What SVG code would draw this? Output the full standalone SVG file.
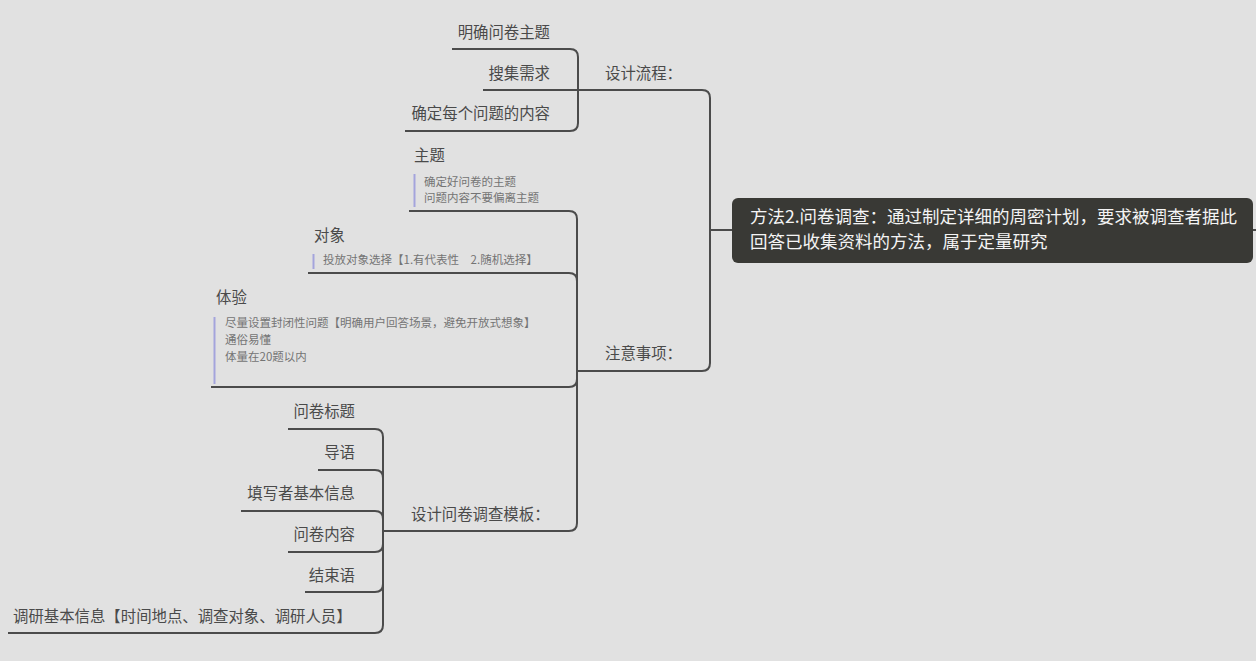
<svg xmlns="http://www.w3.org/2000/svg" width="1256" height="661" viewBox="0 0 1256 661">
<style>
text{font-family:"Noto Sans CJK SC","Liberation Sans",sans-serif;}
.t{font-size:15.4px;fill:#4a4a4a;}
.e{text-anchor:end;}
.n{font-size:11.5px;fill:#747474;}
.bar{stroke:#a4a4dc;stroke-width:2;fill:none;}
.c{stroke:#4b4b4b;stroke-width:2;fill:none;stroke-linecap:butt;}
.m{font-size:17.5px;fill:#f4f4f4;}
</style>
<rect x="0" y="0" width="1256" height="661" fill="#e1e1e1"/>
<g id="connectors">
<path class="c" d="M732,230 H710"/>
<path class="c" d="M1253,230 H1256"/>
<path class="c" d="M483,90 H702 Q710,90 710,98 V363 Q710,371 702,371 H577"/>
<path class="c" d="M452,49 H570 Q578,49 578,57 V123 Q578,131 570,131 H405"/>
<path class="c" d="M409,211 H569 Q577,211 577,219 V523 Q577,531 569,531 H383"/>
<path class="c" d="M308,273 H569 Q577,273 577,281"/>
<path class="c" d="M211,387 H569 Q577,387 577,379"/>
<path class="c" d="M288,429 H375 Q383,429 383,437 V625 Q383,633 375,633 H8"/>
<path class="c" d="M318,470 H375 Q383,470 383,478"/>
<path class="c" d="M241,511 H375 Q383,511 383,519"/>
<path class="c" d="M288,552 H375 Q383,552 383,544"/>
<path class="c" d="M305,592 H375 Q383,592 383,584"/>
</g>
<g id="main">
<rect x="732" y="198" width="521" height="65" rx="6" fill="#393935"/>
<text class="m" x="750" y="223">方法2.问卷调查：通过制定详细的周密计划，要求被调查者据此</text>
<text class="m" x="750" y="247.5">回答已收集资料的方法，属于定量研究</text>
</g>
<g id="design-flow"><text class="t" x="605" y="79">设计流程：</text></g>
<g id="flow-1"><text class="t e" x="550" y="38">明确问卷主题</text></g>
<g id="flow-2"><text class="t e" x="550" y="79">搜集需求</text></g>
<g id="flow-3"><text class="t e" x="550" y="119">确定每个问题的内容</text></g>
<g id="notes"><text class="t" x="605" y="359">注意事项：</text></g>
<g id="note-topic">
<text class="t" x="414" y="161">主题</text>
<line class="bar" x1="414.5" y1="174" x2="414.5" y2="207"/>
<text class="n" x="424" y="186">确定好问卷的主题</text>
<text class="n" x="424" y="202">问题内容不要偏离主题</text>
</g>
<g id="note-target">
<text class="t" x="314" y="241">对象</text>
<line class="bar" x1="313.5" y1="254" x2="313.5" y2="269"/>
<text class="n" x="323" y="264">投放对象选择【1.有代表性　2.随机选择】</text>
</g>
<g id="note-experience">
<text class="t" x="216" y="303">体验</text>
<line class="bar" x1="214.5" y1="317" x2="214.5" y2="384"/>
<text class="n" x="225" y="327">尽量设置封闭性问题【明确用户回答场景，避免开放式想象】</text>
<text class="n" x="225" y="344">通俗易懂</text>
<text class="n" x="225" y="361">体量在20题以内</text>
</g>
<g id="template"><text class="t" x="411" y="520">设计问卷调查模板：</text></g>
<g id="tpl-1"><text class="t e" x="355" y="417">问卷标题</text></g>
<g id="tpl-2"><text class="t e" x="355" y="458">导语</text></g>
<g id="tpl-3"><text class="t e" x="355" y="499">填写者基本信息</text></g>
<g id="tpl-4"><text class="t e" x="355" y="540">问卷内容</text></g>
<g id="tpl-5"><text class="t e" x="355" y="581">结束语</text></g>
<g id="tpl-6"><text class="t" x="13" y="622">调研基本信息【时间地点、调查对象、调研人员】</text></g>
</svg>
